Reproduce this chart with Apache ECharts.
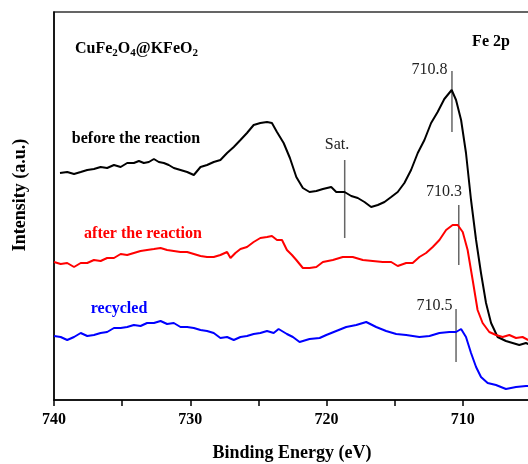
<!DOCTYPE html>
<html>
<head>
<meta charset="utf-8">
<script src="https://cdn.jsdelivr.net/npm/echarts@6/dist/echarts.min.js"></script>
<style>
html,body{margin:0;padding:0;background:#fff;}
#chart{width:528px;height:464px;}
</style>
</head>
<body>
<div id="chart"></div>
<script>
// Binding energy (eV) and intensity (a.u.)
const beforeE = [739.56,739.03,738.53,738.04,737.56,737.07,736.58,736.10,735.60,735.11,734.63,734.14,733.77,733.41,733.04,732.67,732.31,731.94,731.58,731.21,730.72,730.23,729.74,729.25,728.77,728.28,727.79,727.30,726.81,726.32,725.84,725.35,724.86,724.37,724.01,723.64,723.15,722.69,722.22,721.74,721.25,720.75,720.27,719.66,719.29,718.68,718.19,717.71,717.22,716.73,716.24,715.75,715.26,714.78,714.29,713.80,713.31,712.82,712.33,711.85,711.36,710.82,710.50,710.13,709.77,709.40,709.03,708.67,708.30,707.93,707.45,706.84,706.35,705.86,705.37,705.20];
const beforeI = [227,228,226,228,230,231,233,232,235,233,237,237,239,237,238,241,238,237,235,232,230,228,225,233,235,238,240,247,253,260,267,275,277,278,277,268,257,242,223,212,208,209,211,213,208,208,204,202,198,193,195,198,203,208,217,230,247,260,277,288,301,310,300,280,247,200,160,127,97,77,63,59,57,55,57,56];

const afterE = [740.00,739.51,739.03,738.53,738.04,737.56,737.07,736.58,736.10,735.60,735.11,734.63,734.14,733.65,733.17,732.67,732.18,731.70,731.21,730.72,730.23,729.74,729.25,728.77,728.28,727.79,727.30,727.05,726.69,726.32,725.84,725.35,724.86,724.37,724.01,723.64,723.27,722.91,722.54,722.22,721.74,721.25,720.75,720.27,719.54,718.81,718.08,717.34,716.61,715.88,715.26,714.78,714.16,713.68,713.19,712.70,712.21,711.72,711.23,710.75,710.38,710.01,709.65,709.28,708.92,708.55,708.06,707.57,707.08,706.59,706.10,705.62,705.20];
const afterI = [138,136,137,133,137,137,140,139,142,142,146,145,147,149,150,151,152,150,149,148,148,146,144,143,143,145,148,142,147,151,153,158,162,163,164,160,160,150,145,140,132,132,133,138,140,143,143,140,139,138,138,134,137,137,143,147,153,160,170,175,175,168,150,120,90,77,68,65,63,65,62,63,60];

const recycledE = [740.00,739.51,739.03,738.53,738.04,737.56,737.07,736.58,736.10,735.60,735.11,734.63,734.14,733.65,733.17,732.67,732.18,731.70,731.21,730.72,730.23,729.74,729.25,728.77,728.28,727.79,727.30,726.81,726.32,725.84,725.35,724.86,724.37,723.88,723.52,722.91,722.47,721.98,721.25,720.51,720.02,719.29,718.56,717.82,717.09,716.36,715.63,714.89,714.16,713.19,712.45,711.72,710.99,710.50,710.13,709.77,709.40,709.03,708.67,708.18,707.57,706.84,706.10,705.37,705.20];
const recycledI = [64,63,60,63,67,64,65,67,68,72,72,73,75,74,77,77,79,76,77,73,73,72,70,69,67,62,63,60,63,64,66,67,69,67,71,66,63,58,61,62,65,69,73,75,78,73,69,66,65,63,64,67,68,68,71,63,47,33,23,17,15,11,13,14,14];

// Peak marker lines: position (eV), bottom and top intensity
const markerE = [710.8, 718.67, 710.3, 710.5];
const markerLow = [268, 162, 135, 38];
const markerHigh = [329, 240, 195, 91];

const xTicks = [740, 730, 720, 710];

const zip = (a, b) => a.map((v, i) => [v, b[i]]);
const serif = '"Liberation Serif", "Times New Roman", serif';

const chart = echarts.init(document.getElementById('chart'), null, {renderer: 'canvas'});

const markerSeries = markerE.map((e, i) => ({
  type: 'line',
  data: [[e, markerLow[i]], [e, markerHigh[i]]],
  symbol: 'none',
  lineStyle: {color: '#666', width: 1.5},
  silent: true,
  z: 1
}));

const option = {
  animation: false,
  backgroundColor: '#fff',
  grid: {left: 54, right: -3, top: 12, bottom: 64, show: true, borderColor: '#333', borderWidth: 1.5,
         containLabel: false, outerBoundsMode: 'none'},
  xAxis: {
    type: 'value', min: 705, max: 740, interval: 5, inverse: true,
    axisLine: {show: true, onZero: false, lineStyle: {color: '#000', width: 1.5}},
    axisTick: {show: true, inside: false, length: 6, lineStyle: {color: '#000', width: 1.5}},
    axisLabel: {
      margin: 12, color: '#000', fontFamily: serif, fontWeight: 'bold', fontSize: 16,
      formatter: v => xTicks.includes(v) ? String(v) : ''
    },
    splitLine: {show: false}
  },
  yAxis: {
    type: 'value', min: 0, max: 388,
    axisLine: {show: true, lineStyle: {color: '#000', width: 1.5}},
    axisTick: {show: false}, axisLabel: {show: false}, splitLine: {show: false}
  },
  series: [
    ...markerSeries,
    {type: 'line', data: zip(beforeE, beforeI), symbol: 'none', lineStyle: {color: '#000', width: 2}, z: 3},
    {type: 'line', data: zip(afterE, afterI), symbol: 'none', lineStyle: {color: '#ff0000', width: 2}, z: 3},
    {type: 'line', data: zip(recycledE, recycledI), symbol: 'none', lineStyle: {color: '#0000ff', width: 2}, z: 3}
  ],
  graphic: [
    {type: 'text', x: 292, y: 453, style: {text: 'Binding Energy (eV)', font: 'bold 18px ' + serif, fill: '#000', textAlign: 'center', textVerticalAlign: 'middle'}},
    {type: 'text', x: 20, y: 195, rotation: Math.PI / 2, style: {text: 'Intensity (a.u.)', font: 'bold 18px ' + serif, fill: '#000', textAlign: 'center', textVerticalAlign: 'middle'}},
    {type: 'text', x: 75, y: 49, style: {
      text: '{a|CuFe}{s|2}{a|O}{s|4}{a|@KFeO}{s|2}',
      textVerticalAlign: 'middle',
      rich: {
        a: {fontFamily: serif, fontWeight: 'bold', fontSize: 16, fill: '#000', lineHeight: 20, verticalAlign: 'middle'},
        s: {fontFamily: serif, fontWeight: 'bold', fontSize: 11, fill: '#000', lineHeight: 20, verticalAlign: 'bottom', padding: [6, 0, 0, 0]}
      }
    }},
    {type: 'text', x: 491, y: 42, style: {text: 'Fe 2p', font: 'bold 16px ' + serif, fill: '#000', textAlign: 'center', textVerticalAlign: 'middle'}},
    {type: 'text', x: 429.5, y: 70, style: {text: '710.8', font: '16px ' + serif, fill: '#222', textAlign: 'center', textVerticalAlign: 'middle'}},
    {type: 'text', x: 136, y: 139, style: {text: 'before the reaction', font: 'bold 16px ' + serif, fill: '#000', textAlign: 'center', textVerticalAlign: 'middle'}},
    {type: 'text', x: 337, y: 145, style: {text: 'Sat.', font: '16px ' + serif, fill: '#222', textAlign: 'center', textVerticalAlign: 'middle'}},
    {type: 'text', x: 143, y: 234, style: {text: 'after the reaction', font: 'bold 16px ' + serif, fill: '#ff0000', textAlign: 'center', textVerticalAlign: 'middle'}},
    {type: 'text', x: 444, y: 192, style: {text: '710.3', font: '16px ' + serif, fill: '#222', textAlign: 'center', textVerticalAlign: 'middle'}},
    {type: 'text', x: 119, y: 309, style: {text: 'recycled', font: 'bold 16px ' + serif, fill: '#0000ff', textAlign: 'center', textVerticalAlign: 'middle'}},
    {type: 'text', x: 434.5, y: 306, style: {text: '710.5', font: '16px ' + serif, fill: '#222', textAlign: 'center', textVerticalAlign: 'middle'}}
  ]
};
chart.setOption(option);
</script>
</body>
</html>
